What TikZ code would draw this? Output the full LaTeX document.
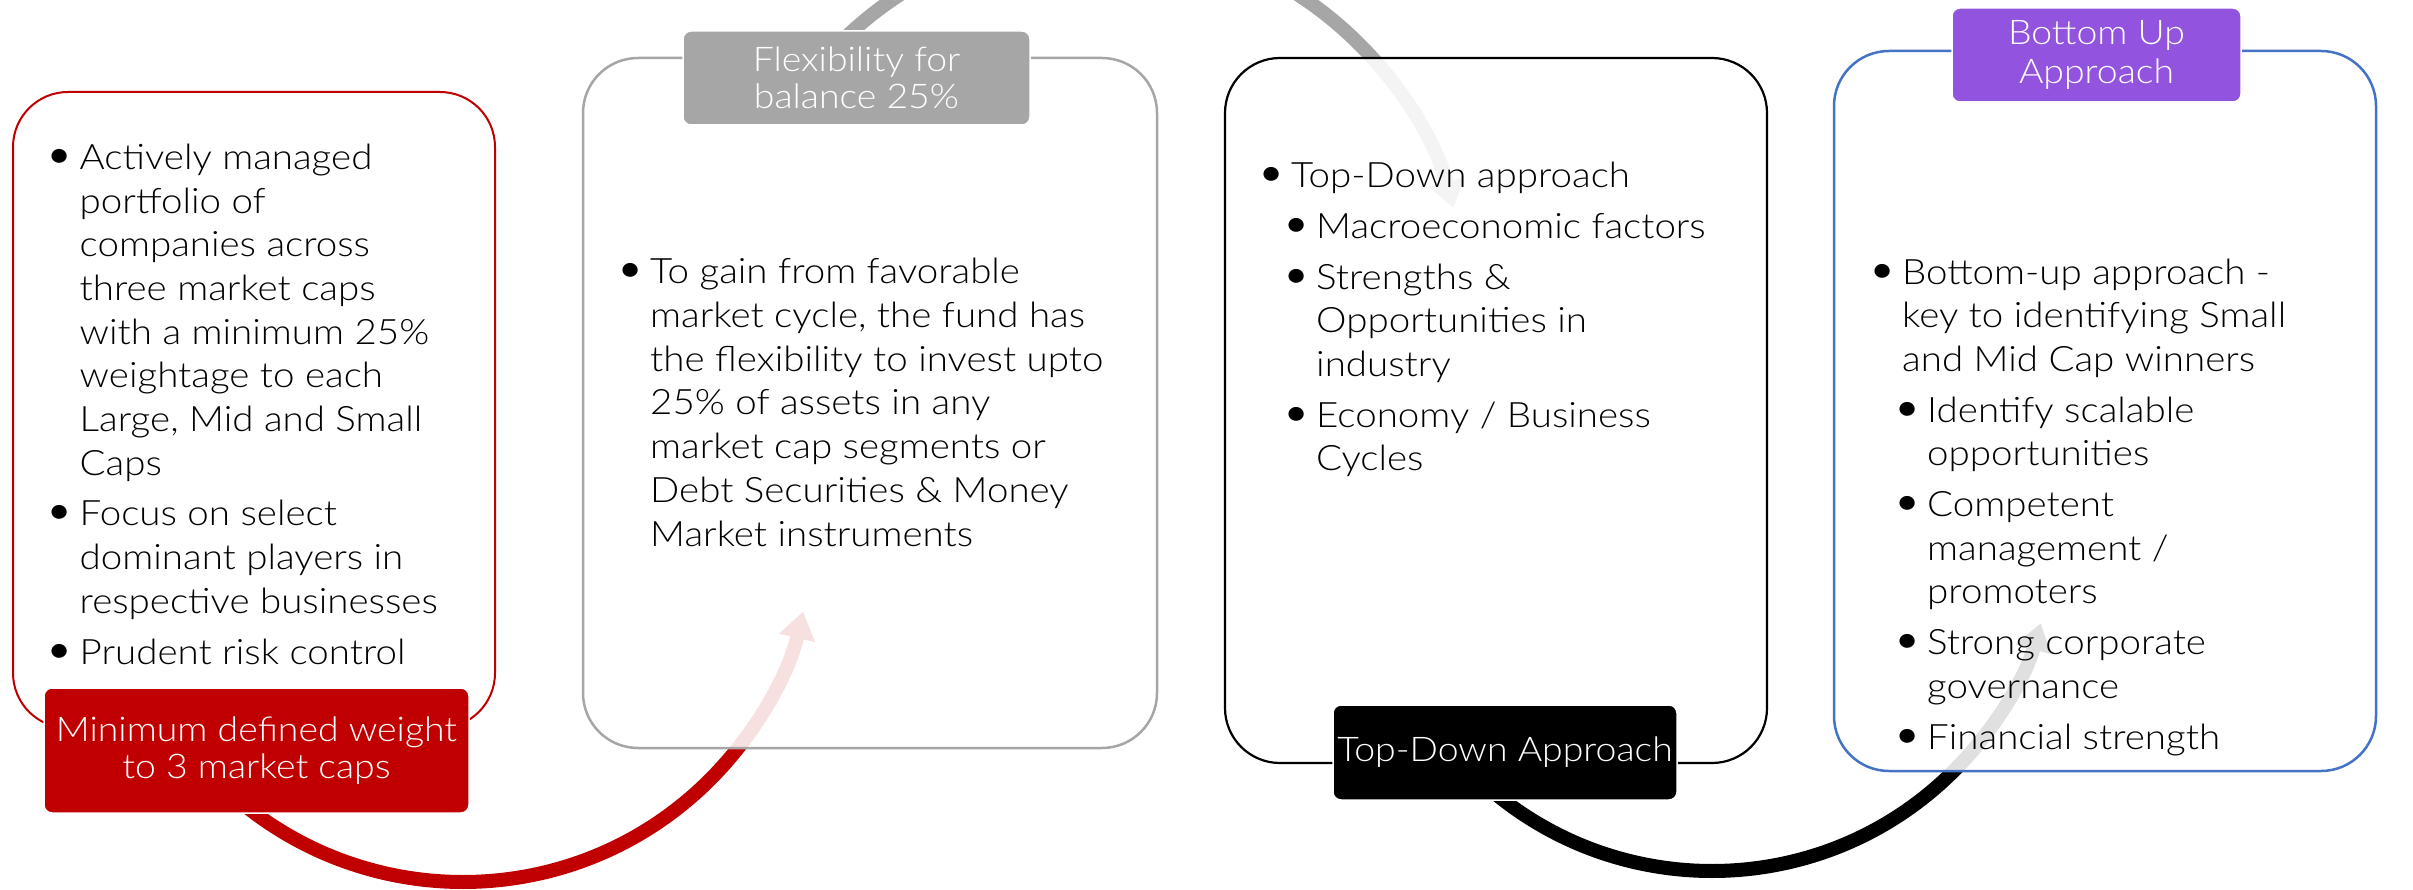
\documentclass[tikz,border=0pt]{standalone}
\usepackage{fontspec}
\setmainfont{Lato Light}[FakeStretch=1.1]
\usepackage{xcolor}
\usetikzlibrary{arrows.meta}
\definecolor{capred}{HTML}{C00000}
\definecolor{flexgray}{HTML}{A6A6A6}
\definecolor{upviolet}{RGB}{146,84,222}
\definecolor{upblue}{HTML}{4472C4}
\newcommand{\bul}{\llap{\raisebox{-1pt}{\scalebox{1.35}{\textbullet}}\hspace{5pt}}}
\newcommand{\sub}{\hspace*{25pt}}

\begin{document}
\begin{tikzpicture}[x=1pt,y=-1pt,
	box/.style={draw,line width=2.5pt,rounded corners=55pt,fill=white,fill opacity=0.88,inner sep=0pt},
	tag/.style={draw=white,line width=1.5pt,rounded corners=8pt,text=white,align=center,inner sep=0pt,font=\fontsize{34}{37}\selectfont},
	txt/.style={anchor=base west,align=left,inner sep=0pt,font=\fontsize{35}{43.7}\selectfont},
	flow/.style={line width=14pt,-{Triangle[width=35pt,length=27pt]}}]
		\clip (0,0) rectangle (2413,890);
		% centres of the three bent arrows
		\coordinate (o1) at (463,533);
		\coordinate (o2) at (1099,303);
		\coordinate (o3) at (1712,529);
		\draw[flow,capred] (o1) ++(135:349) arc[start angle=135,end angle=13,radius=349];
		\draw[flow,flexgray] (o2) ++(-140:367) arc[start angle=-140,end angle=-15,radius=367];
		\draw[flow,black] (o3) ++(135:342) arc[start angle=135,end angle=16,radius=342];
		% boxes
		\node[box,draw=capred,line width=2pt,minimum width=482pt,minimum height=636pt] (b1) at (254,410) {};
		\node[box,draw=flexgray,minimum width=574pt,minimum height=690pt] (b2) at (870,403) {};
		\node[box,draw=black,line width=2.2pt,minimum width=542pt,minimum height=705pt] (b3) at (1496,410.5) {};
		\node[box,draw=upblue,minimum width=542pt,minimum height=720pt] (b4) at (2105,411) {};
		% labels
		\node[tag,fill=capred,minimum width=425pt,minimum height=125pt] (l1) at (256.5,750.5) {Minimum defined weight\\to 3 market caps};
		\node[tag,fill=flexgray,minimum width=347pt,minimum height=94pt] (l2) at (856.5,78) {Flexibility for\\balance 25\%};
		\node[tag,fill=black,minimum width=344pt,minimum height=95pt] (l3) at (1505,752.5) {Top-Down Approach};
		\node[tag,fill=upviolet,minimum width=289pt,minimum height=94pt,font=\fontsize{34}{39}\selectfont] (l4) at (2096.5,55) {Bottom Up\\Approach};
		% texts (placed by the baseline of their last line)
		\node[txt] (t1) at (79.5,664) {\bul Actively managed\\portfolio of\\companies across\\three market caps\\with a minimum 25\%\\weightage to each\\Large, Mid and Small\\Caps\\[7pt]
			\bul Focus on select\\dominant players in\\respective businesses\\[7pt]
			\bul Prudent risk control};
		\node[txt] (t2) at (650,546) {\bul To gain from favorable\\market cycle, the fund has\\the flexibility to invest upto\\25\% of assets in any\\market cap segments or\\Debt Securities \& Money\\Market instruments};
		\node[txt] (t3) at (1291,471) {\bul Top-Down approach\\[7pt]
			\sub\bul Macroeconomic factors\\[7pt]
			\sub\bul Strengths \&\\\sub Opportunities in\\\sub industry\\[7pt]
			\sub\bul Economy / Business\\\sub Cycles};
		\node[txt] (t4) at (1902,749) {\bul Bottom-up approach -\\key to identifying Small\\and Mid Cap winners\\[7pt]
			\sub\bul Identify scalable\\\sub opportunities\\[7pt]
			\sub\bul Competent\\\sub management /\\\sub promoters\\[7pt]
			\sub\bul Strong corporate\\\sub governance\\[7pt]
			\sub\bul Financial strength};
\end{tikzpicture}
\end{document}
